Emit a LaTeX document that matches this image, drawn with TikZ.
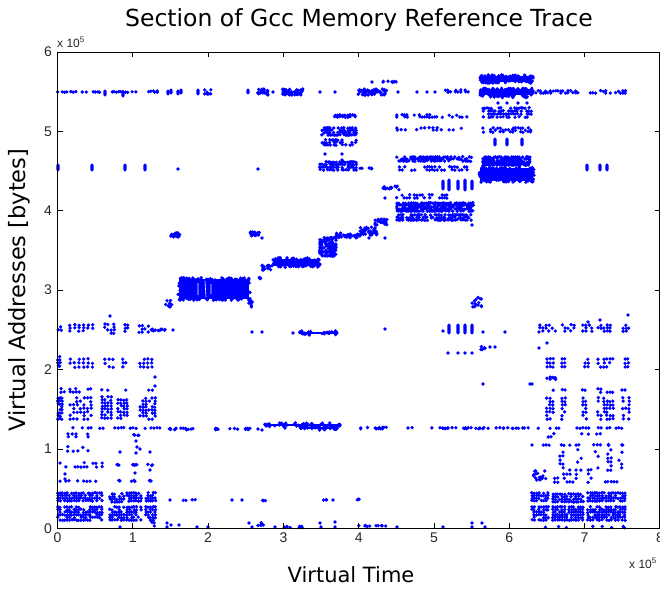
\documentclass[tikz,border=0pt]{standalone}
\usepackage{fontspec}
\setmainfont{Liberation Sans}
\newfontfamily\verdanalike{DejaVu Sans}
\definecolor{plotblue}{RGB}{0,0,255}
\definecolor{ticktext}{RGB}{38,38,38}

% dot radius of a single trace sample
\newcommand\dotr{1.85}
% one sample
\newcommand\pdot[2]{\fill[plotblue] (#1,#2) circle[radius=\dotr];}
% n samples scattered along a row: x1 x2 y n
\newcommand\ptrow[4]{\foreach \k in {1,...,#4}{\fill[plotblue] ({#1+rnd*(#2-#1)},{#3+(rnd-0.5)*1.6}) circle[radius=\dotr];}}
% n samples scattered in a box: x1 x2 y1 y2 n
\newcommand\ptbox[5]{\foreach \k in {1,...,#5}{\fill[plotblue] ({#1+rnd*(#2-#1)},{#3+rnd*(#4-#3)}) circle[radius=\dotr];}}
% regular grid of samples with dropout: x1 x2 dx y1 y2 dy p
\newcommand\ptgrid[7]{%
  \pgfmathtruncatemacro\gnx{(#2-#1)/#3}%
  \pgfmathtruncatemacro\gny{(#5-#4)/#6}%
  \foreach \i in {0,...,\gnx}{\foreach \j in {0,...,\gny}{%
    \pgfmathsetmacro\gr{rnd}%
    \ifdim\gr pt<#7pt\relax
      \fill[plotblue] ({#1+\i*#3+(rnd-0.5)*0.8},{#4+\j*#6+(rnd-0.5)*0.8}) circle[radius=\dotr];%
    \fi}}}
% short vertical stack of samples: x y1 y2
\newcommand\pttick[3]{\fill[plotblue,rounded corners=1.6] ({#1-1.6},{#2-1.6}) rectangle ({#1+1.6},{#3+1.6});}
% solid band with ragged borders: x1 x2 y1 y2 n
\newcommand\ptblock[5]{%
  \fill[plotblue] (#1,#3) rectangle (#2,#4);
  \foreach \k in {1,...,#5}{%
    \fill[plotblue] ({#1+rnd*(#2-#1)},{#3+(rnd-0.5)*2.4}) circle[radius=\dotr];
    \fill[plotblue] ({#1+rnd*(#2-#1)},{#4+(rnd-0.5)*2.4}) circle[radius=\dotr];}
  \foreach \k in {1,...,6}{%
    \fill[plotblue] ({#1+(rnd-0.5)*2.4},{#3+rnd*(#4-#3)}) circle[radius=\dotr];
    \fill[plotblue] ({#2+(rnd-0.5)*2.4},{#3+rnd*(#4-#3)}) circle[radius=\dotr];}}

\tikzset{
  axisline/.style={draw=black,line width=0.7pt},
  ticklabel/.style={font=\fontsize{14}{16}\selectfont,text=ticktext,inner sep=0pt},
  explabel/.style={font=\fontsize{12}{14}\selectfont,text=ticktext,inner sep=0pt},
}

\begin{document}
\begin{tikzpicture}[x=1pt,y=-1pt]
\useasboundingbox (0,0) rectangle (660,589);
\pgfmathsetseed{4242}

% ================= row near 5.5e5 =================
\ptgrid{58}{103}{2.2}{92}{92}{1}{0.65}
\ptgrid{112}{138}{2.2}{92}{92}{1}{0.65}
\pttick{105}{91}{95}\pttick{123}{92}{96}
\ptgrid{147}{158}{2}{91}{92}{1}{0.7}
\pttick{168}{91}{94}\pttick{171}{90}{93}
\pttick{178}{91}{94}\pttick{181}{90}{93}
\pttick{198}{90}{94}\ptgrid{205}{212}{2}{90}{94}{2}{0.7}
\pttick{248}{90}{93}
\ptbox{258}{268}{89}{95}{25}
\pdot{273}{92}
\ptbox{282}{303}{89}{95}{45}
\pdot{320}{92}\pdot{335}{92}
\ptbox{358}{387}{89}{95}{55}
\pdot{398}{92}\pdot{417}{92}\pdot{427}{92}\pdot{435}{92}
\ptgrid{443}{473}{2.5}{90}{92}{2}{0.5}
\ptgrid{533}{580}{2.5}{91}{93}{2}{0.5}
\ptgrid{588}{627}{2.5}{91}{93}{2}{0.5}
% samples near 5.6e5
\pdot{372}{82}\ptrow{382}{397}{82}{8}

% ================= row near 4.5e5 =================
\pttick{58}{165}{170}\pttick{92}{165}{170}\pttick{125}{165}{170}\pttick{145}{165}{170}
\pdot{178}{169}\pdot{258}{169}
\pttick{587}{165}{170}\pttick{600}{165}{170}\pttick{607}{165}{170}

% ================= first phase (t < 1.3e5) =================
% 2.5e5
\ptgrid{58}{62}{3}{324}{333}{3}{0.8}
\ptgrid{70}{93}{4.5}{325}{333}{3}{0.8}
\ptgrid{105}{114}{3}{324}{333}{3}{0.6}
\ptgrid{122}{129}{3}{325}{333}{3}{0.7}
\ptgrid{139}{150}{3}{326}{333}{3}{0.6}
\ptrow{150}{167}{330}{12}
\pdot{173}{330}\pdot{110}{316}
% 2.1e5
\ptgrid{58}{60}{2}{357}{367}{3}{0.7}
\ptgrid{70}{93}{4.5}{359}{367}{4}{0.7}
\ptgrid{105}{114}{4}{359}{367}{4}{0.7}
\ptgrid{123}{127}{3}{359}{367}{4}{0.7}
\ptgrid{140}{152}{4}{359}{367}{4}{0.7}
\pdot{155}{377}
% 1.75e5
\ptgrid{58}{93}{3}{389}{392}{3}{0.55}
\ptgrid{102}{110}{3}{390}{390}{1}{0.7}
\ptgrid{123}{127}{3}{390}{390}{1}{0.7}
\ptgrid{140}{155}{3}{390}{390}{1}{0.6}
\pdot{155}{386}
% 1.5e5 - 1.65e5
\ptgrid{58}{62}{2}{398}{420}{3}{0.8}
\ptgrid{70}{93}{3.5}{398}{420}{3.5}{0.65}
\ptgrid{102}{113}{3}{397}{420}{3}{0.8}
\ptgrid{118}{128}{3}{400}{420}{3}{0.75}
\ptgrid{140}{155}{3}{398}{420}{3}{0.7}
% 1.25e5
\ptgrid{58}{160}{3}{428}{428}{1}{0.6}
\ptrow{168}{177}{429}{6}
% 1.15e5
\ptgrid{68}{90}{4}{434}{437}{3}{0.5}
\ptrow{133}{141}{435}{4}
% 1.0e5
\ptgrid{68}{93}{5}{447}{453}{4}{0.6}
\pdot{120}{452}\pdot{136}{441}\pdot{137}{447}\pdot{136}{453}\pdot{140}{449}\pdot{150}{452}
% 0.8e5
\ptgrid{60}{103}{3}{463}{467}{4}{0.5}
\ptrow{114}{120}{465}{3}\ptrow{128}{140}{465}{5}\ptrow{147}{155}{465}{3}
% 0.6e5
\pdot{65}{474}\pdot{65}{479}
\ptgrid{60}{100}{3}{481}{481}{1}{0.6}
\ptrow{113}{120}{481}{3}\ptrow{128}{135}{481}{3}\ptrow{148}{155}{481}{3}
\pdot{135}{473}\pdot{150}{470}
% dense low addresses
\ptgrid{58}{102}{2.3}{493}{502}{2.6}{0.8}
\ptgrid{58}{102}{2.3}{507}{521}{2.6}{0.8}
\ptgrid{110}{124}{2.3}{494}{502}{2.6}{0.75}
\ptgrid{110}{124}{2.3}{507}{521}{2.6}{0.75}
\ptgrid{127}{141}{2.3}{493}{502}{2.6}{0.8}
\ptgrid{127}{141}{2.3}{507}{521}{2.6}{0.8}
\ptgrid{146}{156}{2.3}{493}{502}{2.6}{0.7}
\ptgrid{146}{156}{2.3}{507}{521}{2.6}{0.7}
\pdot{120}{527}\ptbox{150}{157}{520}{527}{4}

% ================= second phase =================
\ptbox{170}{180}{233}{237}{20}
\ptbox{250}{260}{232}{236}{20}\pdot{262}{238}
\ptblock{179}{249}{279}{299}{45}
\draw[white,line width=0.6pt] (198,283) -- (198,295) (205,281) -- (206,297) (211,284) -- (211,294);
\ptbox{165}{172}{300}{307}{8}
\ptbox{248}{253}{300}{307}{8}
\ptrow{178}{193}{429}{8}\ptrow{212}{223}{429}{6}\ptrow{227}{250}{429}{10}\pdot{258}{429}
\pdot{170}{500}\ptgrid{183}{197}{3}{500}{500}{1}{0.9}
\pdot{232}{500}\pdot{242}{500}\ptrow{262}{267}{500}{3}
\ptrow{322}{327}{500}{3}\pdot{333}{500}\ptrow{355}{360}{500}{3}
% near zero
\pdot{167}{523}\pdot{167}{527}\pdot{171}{525}\pdot{179}{525}\pdot{197}{527}\pdot{208}{527}
\pdot{249}{523}\pdot{252}{527}\ptbox{258}{267}{522}{527}{6}\pdot{275}{527}
\ptrow{283}{303}{527}{8}\pdot{320}{523}\pdot{321}{527}\pdot{335}{522}\pdot{335}{527}
\ptrow{358}{387}{526}{10}\pdot{397}{527}\pdot{443}{527}
\pdot{472}{523}\pdot{472}{527}\pdot{482}{523}\pdot{485}{527}

% ================= third phase =================
\pdot{260}{278}
\ptbox{258}{263}{277}{279}{3}
\ptbox{260}{273}{265}{270}{18}
\ptblock{274}{319}{259}{266}{25}
\ptblock{301}{336}{332}{334}{12}
\pdot{293}{333}\pdot{252}{332}\pdot{262}{332}
\ptblock{266}{339}{424}{426}{20}
\ptblock{301}{336}{427}{429}{12}
\pdot{285}{428}\pdot{262}{430}

% ================= fourth phase: staircase =================
\ptgrid{320}{337}{2}{238}{256}{2}{0.85}
\ptbox{335}{360}{233}{238}{35}
\ptbox{360}{377}{227}{235}{35}
\ptbox{375}{387}{219}{225}{22}
\pdot{369}{238}\pdot{385}{238}
\ptbox{383}{399}{186}{190}{15}\pdot{385}{198}
% cluster above
\ptgrid{335}{357}{2.5}{115}{117}{2}{0.8}
\ptgrid{322}{357}{2}{128}{135}{2.3}{0.75}
\ptgrid{322}{357}{2}{140}{145}{2.5}{0.75}
\pdot{325}{154}\pdot{342}{154}\pdot{342}{160}
\ptgrid{320}{357}{2}{162}{170}{2.6}{0.85}
\ptrow{360}{372}{168}{5}

% ================= fifth phase =================
\ptgrid{397}{467}{2.5}{115}{117}{2}{0.5}
\ptgrid{397}{467}{4}{128}{130}{2}{0.4}
\ptgrid{397}{472}{2}{157}{161}{2}{0.7}
\ptgrid{397}{467}{2.5}{167}{170}{3}{0.5}
\pttick{443}{181}{189}\pttick{449}{180}{190}\pttick{458}{181}{189}\pttick{465}{180}{190}\pttick{472}{181}{189}
\ptgrid{397}{447}{2.5}{195}{198}{3}{0.55}
\ptgrid{397}{473}{2}{203}{212}{2}{0.85}
\ptgrid{397}{472}{2}{215}{220}{2.5}{0.75}
\pdot{472}{225}
% around 2.5e5
\pdot{443}{331}\pttick{449}{325}{333}\pttick{458}{325}{333}\pttick{465}{325}{333}\pttick{472}{325}{333}
\pdot{448}{353}\pdot{458}{353}\pdot{465}{353}\pdot{472}{353}
\pdot{483}{332}\pdot{505}{332}\pdot{539}{332}\pdot{385}{329}
\ptbox{480}{485}{346}{350}{6}\pdot{490}{347}\pdot{495}{347}
\pdot{483}{384}\pdot{532}{384}
% 1.25e5
\ptrow{360}{388}{428}{14}
\ptgrid{408}{528}{4}{428}{428}{1}{0.55}
\ptrow{440}{483}{428}{14}

% ================= sixth phase =================
\ptblock{481}{532}{76}{82}{30}
\ptblock{481}{532}{89}{95}{30}
\ptrow{483}{531}{97}{10}
\pdot{498}{103}\pdot{507}{103}\pdot{518}{103}\pdot{527}{103}
\ptgrid{483}{531}{2}{108}{118}{3}{0.6}
\ptgrid{483}{531}{2.5}{128}{132}{2}{0.55}
\pttick{495}{139}{145}\pttick{507}{139}{145}\pttick{522}{139}{145}
\ptgrid{483}{531}{1.8}{157}{165}{2}{0.9}
\ptblock{480}{533}{168}{181}{30}
\ptbox{472}{482}{297}{307}{14}

% ================= seventh phase (t > 6.3e5) =================
% 2.5e5
\ptgrid{540}{557}{3}{325}{333}{3}{0.6}
\ptgrid{562}{575}{3}{325}{333}{3}{0.6}
\ptgrid{583}{592}{3}{325}{333}{3}{0.6}
\ptgrid{598}{610}{3}{325}{333}{3}{0.6}
\ptgrid{623}{630}{3}{325}{333}{3}{0.6}
\pdot{628}{315}\pdot{588}{322}\pdot{600}{320}
\pdot{547}{343}\pdot{539}{348}
% 2.1e5
\ptgrid{547}{553}{3}{359}{367}{4}{0.7}
\ptgrid{562}{565}{3}{359}{367}{4}{0.7}
\ptgrid{585}{588}{3}{359}{367}{4}{0.7}
\ptgrid{598}{613}{3}{359}{367}{4}{0.6}
\ptgrid{625}{628}{3}{359}{367}{4}{0.7}
\ptbox{547}{557}{377}{380}{7}
\pdot{530}{384}
% 1.75e5
\ptgrid{553}{575}{3}{390}{390}{1}{0.6}
\ptgrid{582}{593}{3}{390}{390}{1}{0.6}
\ptgrid{598}{615}{3}{389}{392}{3}{0.5}
\pdot{622}{390}\pdot{625}{390}
% 1.5e5 - 1.6e5
\ptgrid{547}{555}{3}{398}{420}{3.5}{0.6}
\ptgrid{562}{565}{3}{398}{420}{3.5}{0.6}
\ptgrid{583}{588}{3}{398}{420}{3.5}{0.6}
\ptgrid{598}{615}{3}{398}{420}{3.5}{0.6}
\ptgrid{623}{630}{3}{398}{420}{3.5}{0.7}
% 1.25e5
\ptgrid{503}{527}{5}{428}{428}{1}{0.8}
\ptgrid{538}{630}{3}{428}{428}{1}{0.6}
% 1.15e5
\ptgrid{548}{555}{3}{434}{437}{3}{0.6}
\ptgrid{582}{600}{3}{434}{434}{1}{0.6}
% 1.05e5
\pdot{532}{445}
\ptgrid{540}{600}{3}{445}{445}{1}{0.6}
\ptrow{607}{610}{445}{2}\ptrow{620}{623}{445}{2}
% 0.85e5
\ptgrid{560}{563}{3}{452}{468}{4}{0.6}
\ptgrid{578}{583}{3}{450}{470}{4}{0.6}
\ptgrid{595}{600}{3}{452}{468}{4}{0.6}
\ptgrid{608}{612}{3}{450}{470}{4}{0.6}
\ptgrid{619}{624}{3}{452}{468}{4}{0.6}
% 0.65e5
\ptbox{533}{547}{470}{482}{16}
\ptgrid{555}{577}{3}{470}{482}{4}{0.45}
\ptgrid{588}{593}{3}{470}{482}{4}{0.5}
\ptgrid{602}{622}{3}{482}{482}{1}{0.7}
% dense low addresses
\ptgrid{532}{550}{2.3}{493}{502}{2.6}{0.8}
\ptgrid{532}{550}{2.3}{507}{521}{2.6}{0.8}
\ptgrid{553}{585}{2.3}{494}{502}{2.6}{0.8}
\ptgrid{553}{585}{2.3}{507}{521}{2.6}{0.8}
\ptgrid{588}{625}{2.3}{493}{502}{2.6}{0.8}
\ptgrid{588}{625}{2.3}{507}{521}{2.6}{0.8}
\ptrow{532}{625}{527}{8}

% ================= axes =================
\draw[axisline] (57.5,52) rectangle (659.5,528.3);
\foreach \k in {0,...,8}{
  \pgfmathsetmacro\tx{57.5+75.3*\k}
  \draw[axisline] (\tx,528.3) -- (\tx,523.3) (\tx,52) -- (\tx,57);
  \node[ticklabel,anchor=north] (xt\k) at (\tx,533) {\k};
}
\foreach \k in {0,...,6}{
  \pgfmathsetmacro\ty{528.3-79.4*\k}
  \draw[axisline] (57.5,\ty) -- (62.5,\ty) (659.5,\ty) -- (654.5,\ty);
  \node[ticklabel,anchor=east] (yt\k) at (52,\ty) {\k};
}
\node[explabel,anchor=base west] (xexptop) at (57,47) {x 10\textsuperscript{5}};
\node[explabel,anchor=base west] (xexpbot) at (629,568) {x 10\textsuperscript{5}};

\node (title) at (359,20) {\verdanalike\fontsize{23.5}{27}\selectfont Section of Gcc Memory Reference Trace};
\node (xlabel) at (351,575) {\verdanalike\fontsize{21}{24}\selectfont Virtual Time};
\node[rotate=90] (ylabel) at (19,290) {\verdanalike\fontsize{22.5}{26}\selectfont Virtual Addresses [bytes]};
\end{tikzpicture}
\end{document}
